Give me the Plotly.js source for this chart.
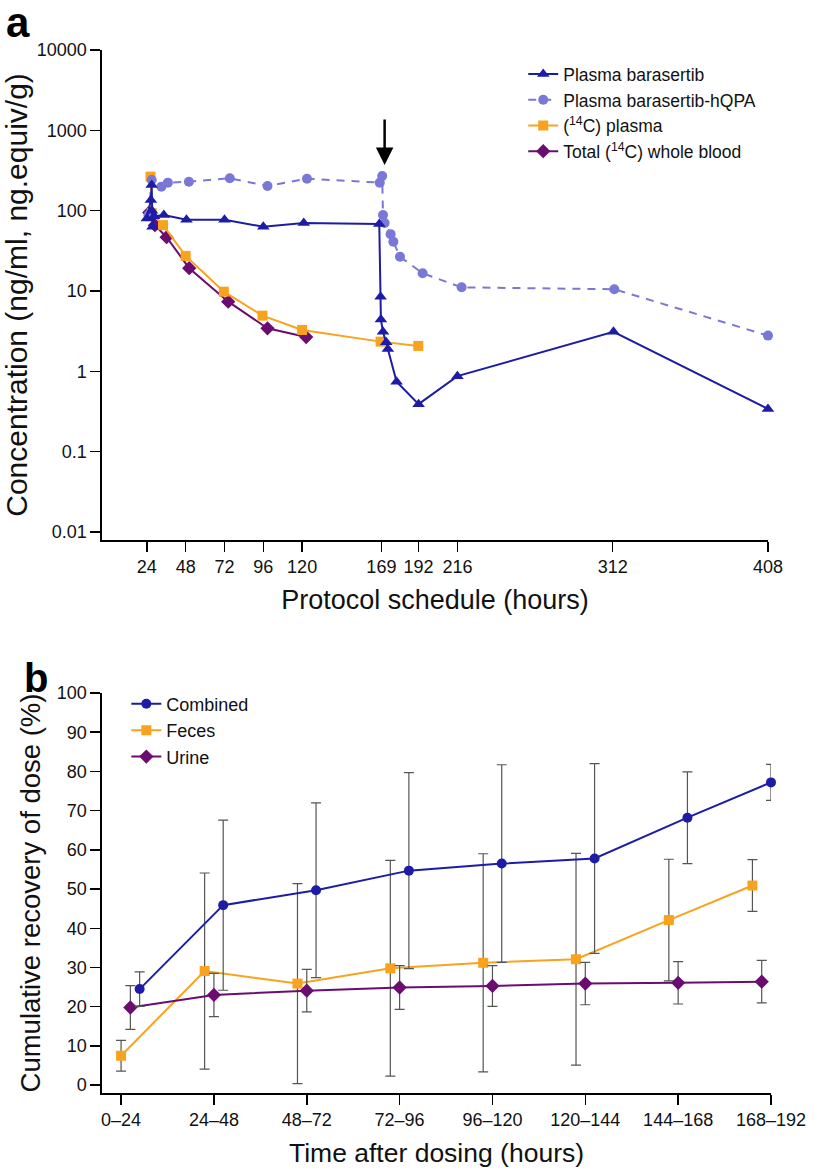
<!DOCTYPE html>
<html>
<head>
<meta charset="utf-8">
<script src="https://cdn.plot.ly/plotly-3.0.1.min.js"></script>
<style>html,body{margin:0;padding:0;background:#fff;}#chart{width:815px;height:1168px;}</style>
</head>
<body>
<div id="chart"></div>
<script>
// ---------- Panel a: concentration vs protocol schedule ----------
const barasertibHours = [24, 26.5, 27, 27.2, 27.5, 28.5, 34.5, 48.5, 72, 96, 121, 167.7, 168.5, 168.7, 170, 172, 173, 178.4, 192, 216, 312.5, 408];
const barasertibConc  = [80, 136, 209, 100, 63, 85, 88, 77, 77, 63, 70, 68, 8.5, 4.4, 3.1, 2.3, 1.9, 0.74, 0.39, 0.87, 3.1, 0.34];

const hqpaHours = [25, 27, 33, 37, 50, 75.3, 98.6, 123, 168, 169.5, 170, 171, 174.7, 176.4, 180.5, 194.5, 218.6, 313, 408];
const hqpaConc  = [88, 241, 199, 223, 229, 253, 203, 250, 223, 270, 88, 70, 51, 41, 26.7, 16.6, 11.1, 10.5, 2.78];

const c14PlasmaHours = [26.3, 27, 34, 48, 71.6, 95.5, 120, 168.5, 191.8];
const c14PlasmaConc  = [265, 93, 66, 27.3, 9.8, 4.93, 3.27, 2.34, 2.07];

const bloodHours = [25.5, 29, 36.2, 50.2, 74.3, 98.6, 122.5];
const bloodConc  = [95, 66, 46.7, 19.2, 7.36, 3.43, 2.67];

const topXTicks = [24, 48, 72, 96, 120, 169, 192, 216, 312, 408];
const topYTicks = [0.01, 0.1, 1, 10, 100, 1000, 10000];
const topYTickText = ['0.01', '0.1', '1', '10', '100', '1000', '10000'];

// ---------- Panel b: cumulative recovery ----------
const categories = ['0–24', '24–48', '48–72', '72–96', '96–120', '120–144', '144–168', '168–192'];
const combined    = [24.5, 45.9, 49.7, 54.7, 56.5, 57.8, 68.2, 77.2];
const combinedErr = [4.4, 21.7, 22.3, 25.0, 25.2, 24.2, 11.7, 4.6];
const feces       = [7.5, 29.1, 25.9, 29.8, 31.2, 32.1, 42.1, 50.9];
const fecesErr    = [3.9, 25.0, 25.5, 27.5, 27.8, 27.0, 15.5, 6.6];
const urine       = [19.8, 23.0, 24.1, 24.9, 25.3, 25.9, 26.1, 26.4];
const urineErr    = [5.6, 5.5, 5.4, 5.6, 5.2, 5.4, 5.4, 5.4];
const bottomYTicks = [0, 10, 20, 30, 40, 50, 60, 70, 80, 90, 100];

// group offsets within each category (fraction of a category step)
function groupX(offset) {
  const n = categories.length;
  return categories.map((c, i) => i + offset + (i === 0 ? 0.1 : 0) + (i === n - 1 ? -0.1 : 0));
}

const FONT = 'Liberation Sans, Arial, Helvetica, sans-serif';
const cBlue = '#1c1ca6', cLav = '#7a78d6', cOrange = '#f9a21d', cPurple = '#6b0c70';
const errColor = '#555555';

const traces = [
  {x: bloodHours, y: bloodConc, name: 'Total (<sup>14</sup>C) whole blood', legendrank: 4, mode: 'lines+markers',
   line: {color: cPurple, width: 2}, marker: {symbol: 'diamond', size: 11, color: cPurple}, xaxis: 'x', yaxis: 'y', cliponaxis: false, legend: 'legend'},
  {x: c14PlasmaHours, y: c14PlasmaConc, name: '(<sup>14</sup>C) plasma', legendrank: 3, mode: 'lines+markers',
   line: {color: cOrange, width: 2}, marker: {symbol: 'square', size: 10, color: cOrange}, xaxis: 'x', yaxis: 'y', cliponaxis: false, legend: 'legend'},
  {x: hqpaHours, y: hqpaConc, name: 'Plasma barasertib-hQPA', legendrank: 2, mode: 'lines+markers',
   line: {color: cLav, width: 2, dash: '8px,7px'}, marker: {symbol: 'circle', size: 10, color: cLav}, xaxis: 'x', yaxis: 'y', cliponaxis: false, legend: 'legend'},
  {x: barasertibHours, y: barasertibConc, name: 'Plasma barasertib', legendrank: 1, mode: 'lines+markers',
   line: {color: cBlue, width: 2}, marker: {symbol: 'triangle-up', size: 11, color: cBlue}, xaxis: 'x', yaxis: 'y', cliponaxis: false, legend: 'legend'},

  {x: groupX(-0.1), y: feces, name: 'Feces', legendrank: 2, mode: 'lines+markers',
   line: {color: cOrange, width: 2}, marker: {symbol: 'square', size: 10, color: cOrange},
   error_y: {type: 'data', array: fecesErr, visible: true, color: errColor, thickness: 1.2, width: 5},
   xaxis: 'x2', yaxis: 'y2', cliponaxis: false, legend: 'legend2'},
  {x: groupX(0), y: urine, name: 'Urine', legendrank: 3, mode: 'lines+markers',
   line: {color: cPurple, width: 2}, marker: {symbol: 'diamond', size: 11, color: cPurple},
   error_y: {type: 'data', array: urineErr, visible: true, color: errColor, thickness: 1.2, width: 5},
   xaxis: 'x2', yaxis: 'y2', cliponaxis: false, legend: 'legend2'},
  {x: groupX(0.1), y: combined, name: 'Combined', legendrank: 1, mode: 'lines+markers',
   line: {color: cBlue, width: 2}, marker: {symbol: 'circle', size: 10, color: cBlue},
   error_y: {type: 'data', array: combinedErr, visible: true, color: errColor, thickness: 1.2, width: 5},
   xaxis: 'x2', yaxis: 'y2', cliponaxis: false, legend: 'legend2'}
];

const axisCommon = {
  showline: true, linewidth: 1.6, linecolor: '#000', mirror: false,
  ticks: 'outside', ticklen: 10, tickwidth: 1.5, tickcolor: '#000',
  showgrid: false, zeroline: false,
  tickfont: {family: FONT, size: 18, color: '#111'}
};

const layout = {
  width: 815, height: 1168,
  margin: {l: 0, r: 0, t: 0, b: 0},
  paper_bgcolor: '#fff', plot_bgcolor: '#fff',
  font: {family: FONT, color: '#111'},
  showlegend: true,
  xaxis: Object.assign({}, axisCommon, {
    domain: [0.1252, 0.9423], anchor: 'y', range: [-3.7, 408],
    tickmode: 'array', tickvals: topXTicks, ticktext: topXTicks.map(String),
    title: {text: 'Protocol schedule (hours)', font: {family: FONT, size: 27, color: '#111'}, standoff: 14}
  }),
  yaxis: Object.assign({}, axisCommon, {
    domain: [0.5377, 0.9572], anchor: 'x', type: 'log', range: [-2.1, 4],
    tickmode: 'array', tickvals: topYTicks, ticktext: topYTickText,
    title: {text: 'Concentration (ng/ml, ng.equiv/g)', font: {family: FONT, size: 30, color: '#111'}, standoff: 6}
  }),
  xaxis2: Object.assign({}, axisCommon, {
    domain: [0.1252, 0.946], anchor: 'y2', range: [-0.205, 7],
    tickmode: 'array', tickvals: categories.map((c, i) => i), ticktext: categories,
    title: {text: 'Time after dosing (hours)', font: {family: FONT, size: 26.5, color: '#111'}, standoff: 14}
  }),
  yaxis2: Object.assign({}, axisCommon, {
    domain: [0.0642, 0.4067], anchor: 'x2', range: [-2, 100],
    tickmode: 'array', tickvals: bottomYTicks, ticktext: bottomYTicks.map(String),
    title: {text: 'Cumulative recovery of dose (%)', font: {family: FONT, size: 27.5, color: '#111'}, standoff: 8}
  }),
  legend: {
    x: 0.642, xanchor: 'left', y: 0.952, yanchor: 'top',
    bgcolor: 'rgba(0,0,0,0)', font: {family: FONT, size: 17.5, color: '#111'},
    traceorder: 'normal', itemwidth: 30
  },
  legend2: {
    x: 0.155, xanchor: 'left', y: 0.413, yanchor: 'top',
    bgcolor: 'rgba(0,0,0,0)', font: {family: FONT, size: 18, color: '#111'},
    traceorder: 'normal', itemwidth: 30
  },
  annotations: [
    {text: '<b>a</b>', xref: 'paper', yref: 'paper', x: 4 / 815, y: 1 - 23 / 1168, xanchor: 'left', yanchor: 'middle',
     showarrow: false, font: {family: FONT, size: 42, color: '#000'}},
    {text: '<b>b</b>', xref: 'paper', yref: 'paper', x: 22 / 815, y: 1 - 678 / 1168, xanchor: 'left', yanchor: 'middle',
     showarrow: false, font: {family: FONT, size: 40, color: '#000'}},
    {text: '', xref: 'x', yref: 'y', x: 171, y: Math.log10(370), axref: 'x', ayref: 'y', ax: 171, ay: Math.log10(1420),
     showarrow: true, arrowhead: 2, arrowsize: 1.4, arrowwidth: 2.5, arrowcolor: '#000', standoff: 0}
  ]
};

Plotly.newPlot('chart', traces, layout, {displayModeBar: false, staticPlot: true});
</script>
</body>
</html>
